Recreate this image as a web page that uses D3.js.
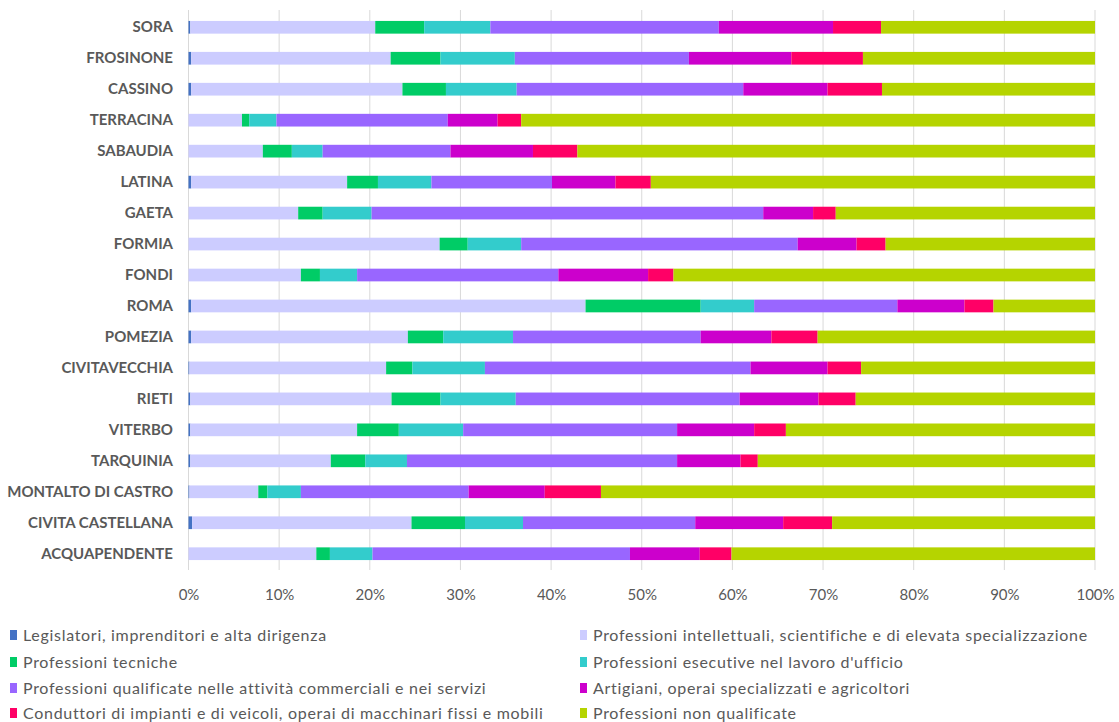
<!DOCTYPE html>
<html><head><meta charset="utf-8">
<script src="https://cdn.jsdelivr.net/npm/d3@7"></script>
<style>body{margin:0;background:#fff}svg{display:block}</style>
</head><body>
<svg id="chart" width="1119" height="722"></svg>
<script>
const categories = ["SORA","FROSINONE","CASSINO","TERRACINA","SABAUDIA","LATINA","GAETA","FORMIA","FONDI","ROMA","POMEZIA","CIVITAVECCHIA","RIETI","VITERBO","TARQUINIA","MONTALTO DI CASTRO","CIVITA CASTELLANA","ACQUAPENDENTE"];
const seriesNames = ["Legislatori, imprenditori e alta dirigenza","Professioni intellettuali, scientifiche e di elevata specializzazione","Professioni tecniche","Professioni esecutive nel lavoro d'ufficio","Professioni qualificate nelle attività commerciali e nei servizi","Artigiani, operai specializzati e agricoltori","Conduttori di impianti e di veicoli, operai di macchinari fissi e mobili","Professioni non qualificate"];
const legislatori   = [0.2,0.3,0.3,0.0,0.0,0.3,0.0,0.0,0.0,0.3,0.3,0.1,0.2,0.2,0.2,0.1,0.4,0.0];
const intellettuali = [20.4,22.0,23.3,5.9,8.2,17.2,12.1,27.7,12.4,43.5,23.9,21.7,22.2,18.4,15.5,7.6,24.2,14.1];
const tecniche      = [5.4,5.5,4.8,0.8,3.2,3.4,2.7,3.1,2.1,12.7,3.9,2.9,5.4,4.6,3.8,1.0,5.9,1.5];
const esecutive     = [7.3,8.2,7.8,3.0,3.4,5.9,5.4,5.9,4.1,5.9,7.7,8.0,8.3,7.1,4.6,3.7,6.4,4.7];
const qualificate   = [25.2,19.2,25.0,18.9,14.1,13.3,43.2,30.5,22.2,15.8,20.7,29.3,24.7,23.6,29.8,18.5,19.0,28.4];
const artigiani     = [12.6,11.3,9.3,5.5,9.1,7.0,5.5,6.5,9.9,7.4,7.8,8.5,8.7,8.5,7.0,8.4,9.7,7.7];
const conduttori    = [5.3,7.9,6.0,2.6,4.9,3.9,2.5,3.2,2.8,3.2,5.1,3.7,4.1,3.5,1.9,6.2,5.4,3.5];
const nonQualificate= [23.6,25.6,23.5,63.3,57.1,49.0,28.6,23.1,46.5,11.2,30.6,25.8,26.4,34.1,37.2,54.5,29.0,40.1];
const tickValues = [0,0.1,0.2,0.3,0.4,0.5,0.6,0.7,0.8,0.9,1.0];
const colors = ["#4472C4","#CCCCFF","#00CC66","#33CCCC","#9966FF","#CC00CC","#FF0066","#B5D400"];

const seriesValues = [legislatori,intellettuali,tecniche,esecutive,qualificate,artigiani,conduttori,nonQualificate];
const keys = seriesNames;
const rows = categories.map((c,i)=>{
  const o = {cat:c};
  let tot = 0; seriesValues.forEach(s=>tot+=s[i]);
  keys.forEach((k,j)=>o[k]=seriesValues[j][i]/tot);
  return o;
});
const stacked = d3.stack().keys(keys)(rows);

const svg = d3.select("#chart");
const x = d3.scaleLinear().domain([0,1]).range([188.5,1095]);
const y = d3.scaleBand().domain(categories).range([11.8,569.2]).paddingInner(0.59).paddingOuter(0.295);

// gridlines
svg.append("g").selectAll("line").data(tickValues).join("line")
  .attr("x1",d=>x(d)).attr("x2",d=>x(d)).attr("y1",10).attr("y2",570)
  .attr("stroke","#d9d9d9").attr("stroke-width",1);

// bars
svg.append("g").selectAll("g").data(stacked).join("g")
  .attr("fill",(d,i)=>colors[i])
  .selectAll("rect").data(d=>d).join("rect")
  .attr("x",d=>x(d[0])).attr("width",d=>Math.max(0,x(d[1])-x(d[0])))
  .attr("y",d=>y(d.data.cat)).attr("height",y.bandwidth());

// x axis labels
const xAxis = d3.axisBottom(x).tickValues(tickValues).tickFormat(d3.format(".0%")).tickSize(0).tickPadding(0);
const gx = svg.append("g").attr("transform","translate(0,589)").call(xAxis);
gx.select(".domain").remove();
gx.selectAll("text").attr("fill","#595959").style("font-family","Lato, 'Open Sans', sans-serif").style("font-size","15px");

// y axis labels
const yAxis = d3.axisLeft(y).tickSize(0).tickPadding(0);
const gy = svg.append("g").attr("transform","translate(173,0)").call(yAxis);
gy.select(".domain").remove();
gy.selectAll("text").attr("fill","#595959").style("font-family","Lato, 'Open Sans', sans-serif").style("font-size","15px").style("font-weight","bold");

// legend
const legX = [10,580], legY = [635,662,688,713];
const leg = svg.append("g").selectAll("g").data(seriesNames).join("g")
  .attr("transform",(d,i)=>`translate(${legX[i%2]},${legY[Math.floor(i/2)]})`);
leg.append("rect").attr("x",0).attr("y",-5).attr("width",7).attr("height",10).attr("fill",(d,i)=>colors[i]);
leg.append("text").attr("x",13).attr("y",0).attr("dy","0.35em").text(d=>d)
  .attr("fill","#595959").style("font-family","Lato, 'Open Sans', sans-serif").style("font-size","16px").style("letter-spacing","0.7px");
</script>
</body></html>
